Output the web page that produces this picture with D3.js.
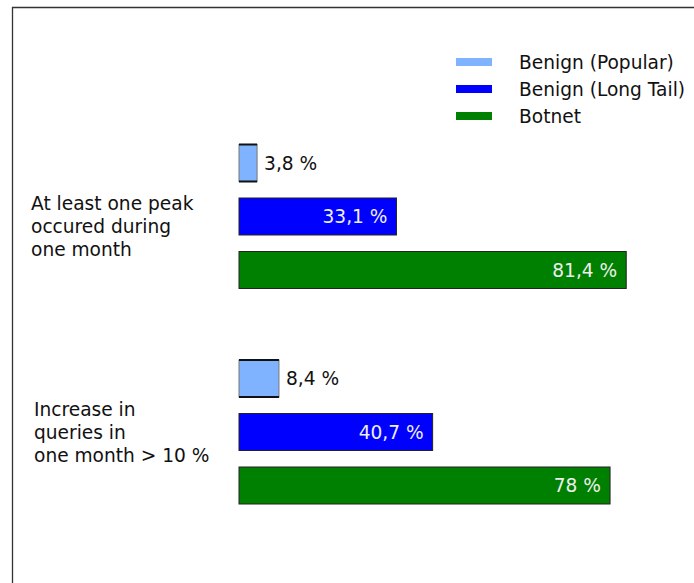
<!DOCTYPE html>
<html>
<head>
<meta charset="utf-8">
<script src="https://cdn.jsdelivr.net/npm/d3@7"></script>
<style>
  body { margin: 0; background: #fff; }
  svg { display: block; font-family: "DejaVu Sans", sans-serif; }
</style>
</head>
<body>
<svg id="chart" width="694" height="583"></svg>
<script>
// data
const categories = ["peak", "increase"];
const categoryLines = [
    ["At least one peak", "occured during", "one month"],
    ["Increase in", "queries in", "one month > 10 %"]
];
const series = ["Benign (Popular)", "Benign (Long Tail)", "Botnet"];
const colors = ["#80b3ff", "#0000ff", "#008000"];
const values = [
    [3.8, 33.1, 81.4],
    [8.4, 40.7, 78]
];
const valueLabels = [
    ["3,8 %", "33,1 %", "81,4 %"],
    ["8,4 %", "40,7 %", "78 %"]
];

const svg = d3.select("#chart");
const width = 694, height = 583;
const fontSize = "18.6px";

// frame (left + top edges only)
svg.append("path")
    .attr("d", `M12.5,${height} V7.5 H${width}`)
    .attr("fill", "none")
    .attr("stroke", "#333")
    .attr("stroke-width", 1.3);

const x = d3.scaleLinear().domain([0, 100]).range([239, 239 + 475.7]);
const yGroup = d3.scalePoint().domain(categories).range([216.5, 432]);
const yInner = d3.scalePoint().domain(series).range([-53.5, 53.5]);
const barH = 37;

// layout tweaks for the category text blocks
const labelX = [31, 34];
const labelDy = [-7, -16];

categories.forEach((c, ci) => {
    const g = svg.append("g");
    const rows = series.map((s, si) => ({ s, si, v: values[ci][si], lab: valueLabels[ci][si] }));

    g.selectAll("rect")
        .data(rows)
        .join("rect")
        .attr("x", x(0))
        .attr("y", d => yGroup(c) + yInner(d.s) - barH / 2)
        .attr("width", d => x(d.v) - x(0))
        .attr("height", barH)
        .attr("fill", d => colors[d.si])
        .attr("stroke", d => d.si === 0 ? "#777" : "#222")
        .attr("stroke-width", 1);

    // dark top/bottom edges on the light bars
    g.selectAll("path.edge")
        .data(rows.filter(d => d.si === 0))
        .join("path")
        .attr("class", "edge")
        .attr("d", d => {
            const y0 = yGroup(c) + yInner(d.s) - barH / 2;
            return `M${x(0)},${y0}H${x(d.v)}M${x(0)},${y0 + barH}H${x(d.v)}`;
        })
        .attr("stroke", "#111")
        .attr("stroke-width", 2);

    g.selectAll("text.val")
        .data(rows)
        .join("text")
        .attr("class", "val")
        .attr("x", d => d.si === 0 ? x(d.v) + 7 : x(d.v) - 9)
        .attr("y", d => yGroup(c) + yInner(d.s))
        .attr("dy", "0.36em")
        .attr("text-anchor", d => d.si === 0 ? "start" : "end")
        .attr("fill", d => d.si === 0 ? "#111" : "#eee")
        .style("font-size", fontSize)
        .text(d => d.lab);

    const t = svg.append("text")
        .attr("x", labelX[ci])
        .attr("y", yGroup(c) + labelDy[ci])
        .attr("fill", "#111")
        .style("font-size", fontSize);
    t.selectAll("tspan")
        .data(categoryLines[ci])
        .join("tspan")
        .attr("x", labelX[ci])
        .attr("dy", (d, i) => i === 0 ? 0 : 23)
        .text(d => d);
});

// legend
const legend = svg.append("g").attr("transform", "translate(456,0)");
const ly = d3.scalePoint().domain(series).range([62, 116]);
legend.selectAll("rect")
    .data(series)
    .join("rect")
    .attr("x", 0)
    .attr("y", d => ly(d) - 4)
    .attr("width", 36)
    .attr("height", 8)
    .attr("fill", (d, i) => colors[i]);
legend.selectAll("text")
    .data(series)
    .join("text")
    .attr("x", 63)
    .attr("y", d => ly(d))
    .attr("dy", "0.36em")
    .attr("fill", "#111")
    .style("font-size", fontSize)
    .text(d => d);
</script>
</body>
</html>
